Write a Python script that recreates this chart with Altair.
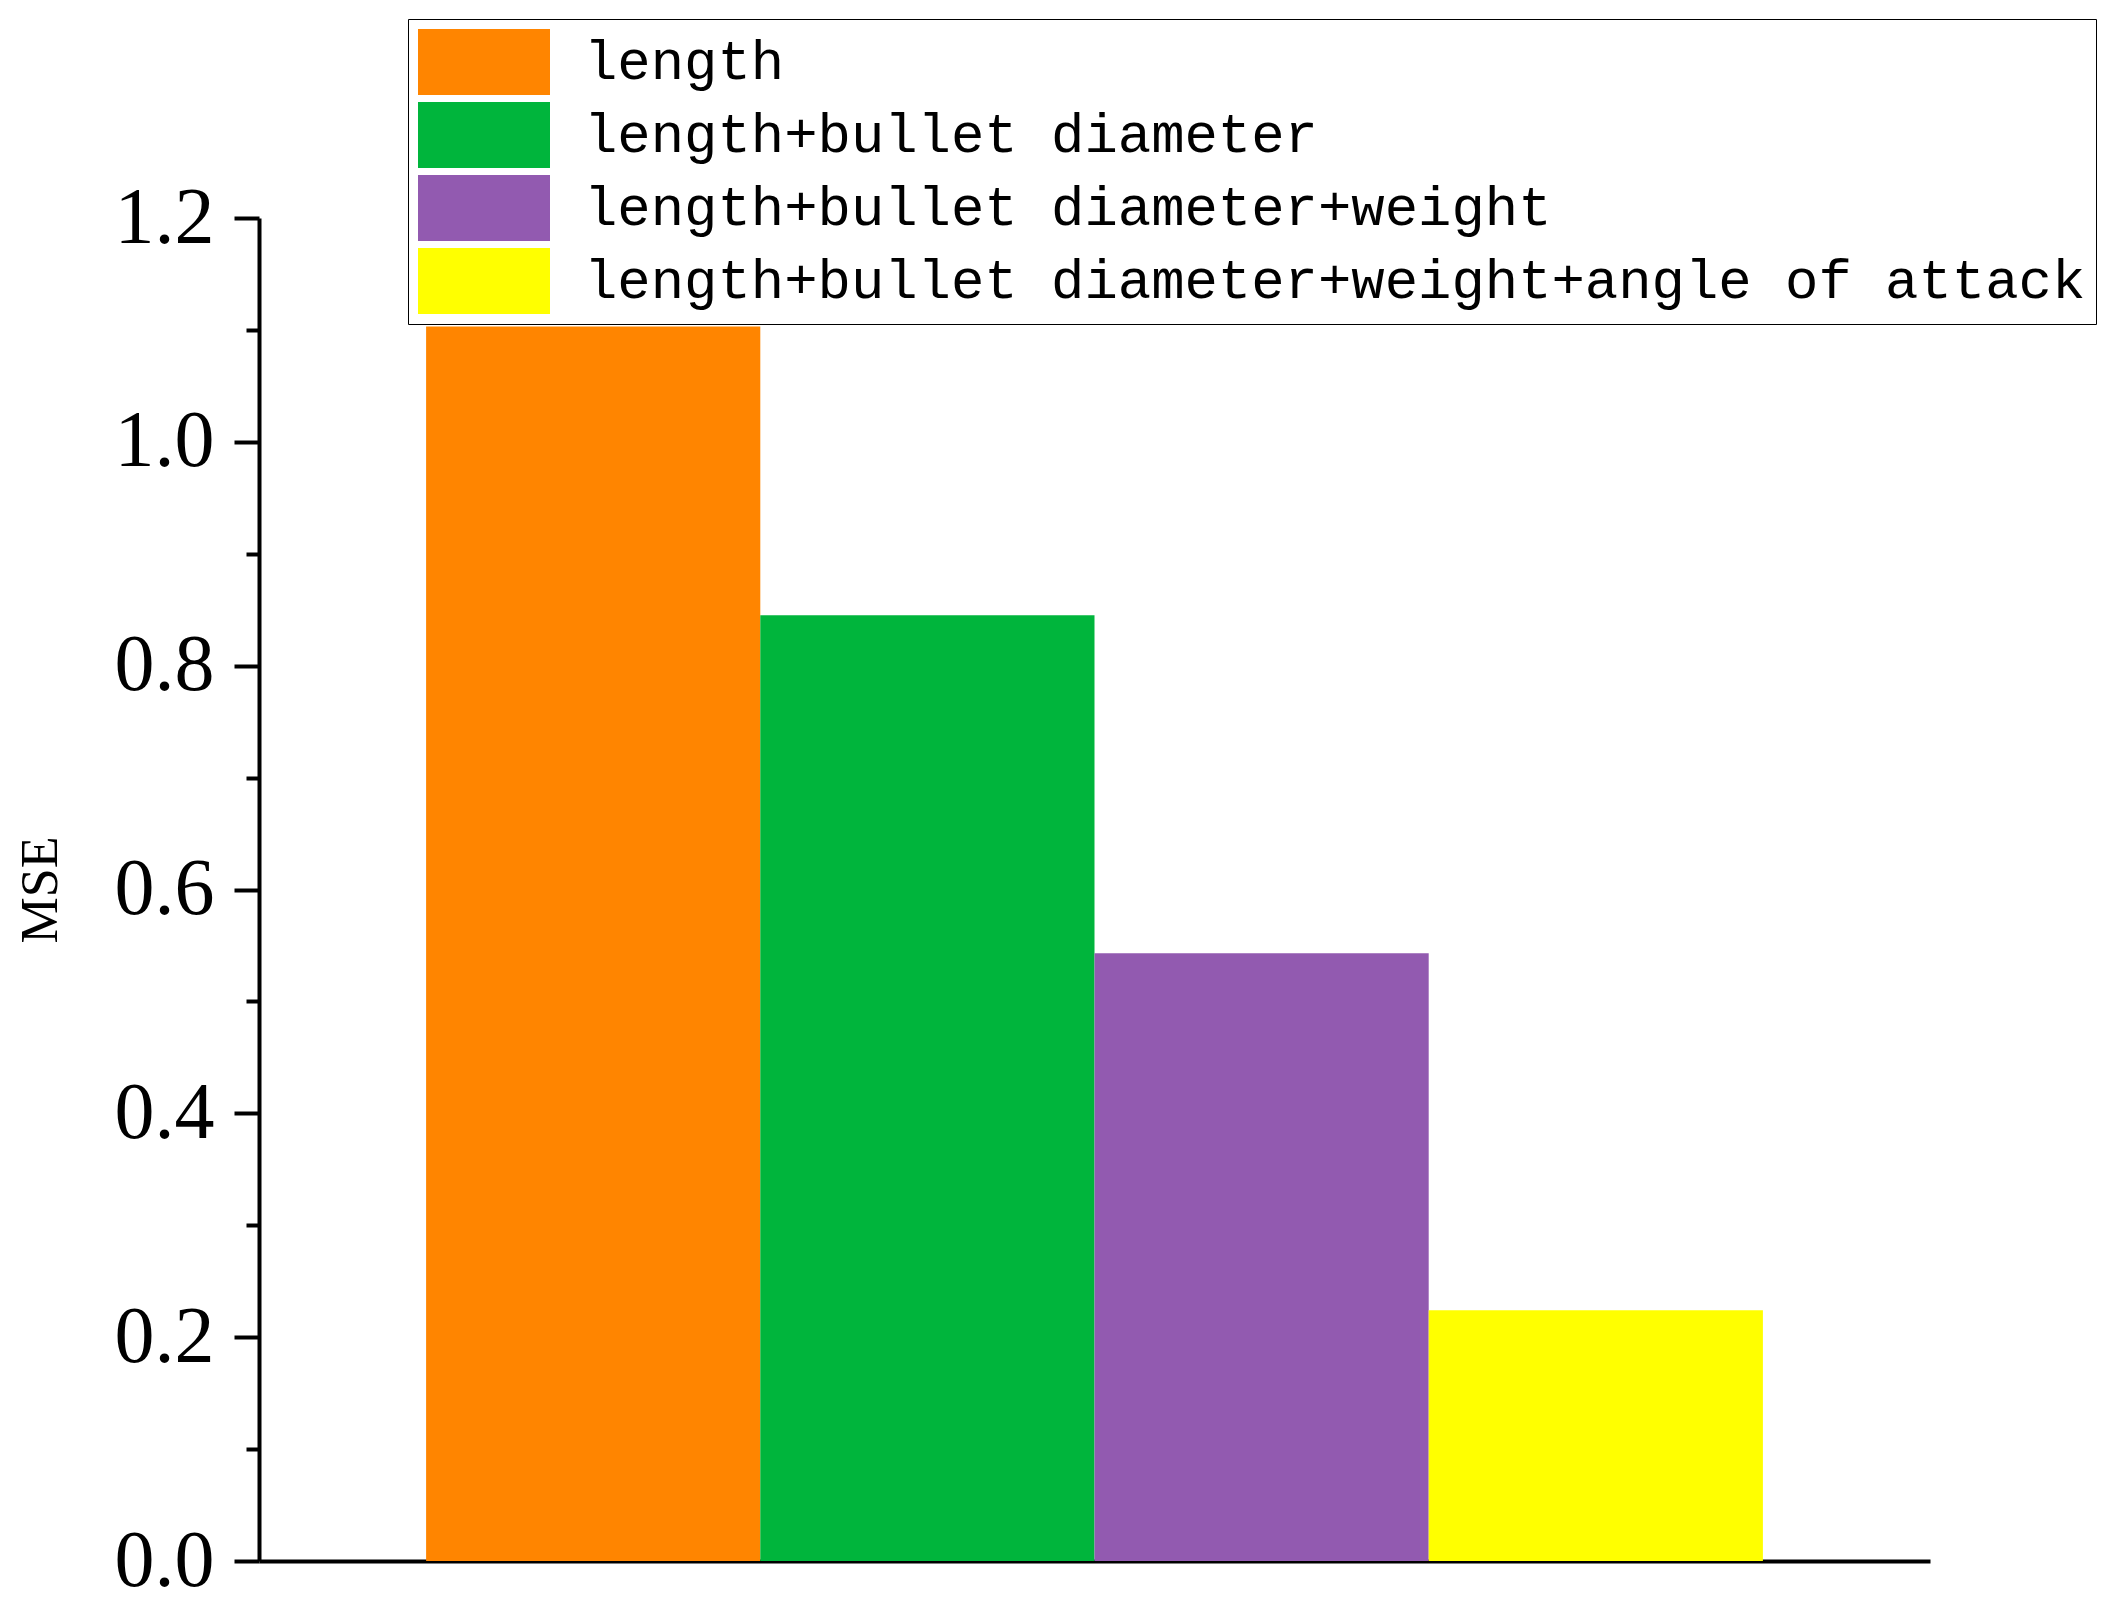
import altair as alt
import pandas as pd

categories = [
    "length",
    "length+bullet diameter",
    "length+bullet diameter+weight",
    "length+bullet diameter+weight+angle of attack",
]
mse_values = [1.103, 0.845, 0.543, 0.224]
bar_colors = ["#FF8500", "#00B53C", "#925AB0", "#FFFF00"]
major_ticks = [0.0, 0.2, 0.4, 0.6, 0.8, 1.0, 1.2]
minor_ticks = [0.1, 0.3, 0.5, 0.7, 0.9, 1.1]

df = pd.DataFrame({"feature": categories, "MSE": mse_values})

x_enc = alt.X(
    "feature:N",
    sort=categories,
    scale=alt.Scale(paddingInner=0, paddingOuter=0.5),
    axis=alt.Axis(labels=False, ticks=False, title=None, domainColor="black",
                  domainWidth=4, grid=False),
)
y_scale = alt.Scale(domain=[0, 1.2], nice=False, zero=True)

bars = alt.Chart(df).mark_bar(opacity=1, strokeWidth=0).encode(
    x=x_enc,
    y=alt.Y(
        "MSE:Q",
        scale=y_scale,
        axis=alt.Axis(
            orient="left",
            values=major_ticks,
            format=".1f",
            tickSize=25,
            tickWidth=4,
            tickColor="black",
            domainColor="black",
            domainWidth=4,
            labelFont="Liberation Serif",
            labelFontSize=80,
            labelColor="black",
            labelPadding=20,
            labelFlush=False,
            labelOverlap=False,
            grid=False,
            title="MSE",
            titleFont="Liberation Serif",
            titleFontSize=52,
            titleFontWeight="normal",
            titleColor="black",
            titlePadding=47,
        ),
    ),
    color=alt.Color(
        "feature:N",
        sort=categories,
        scale=alt.Scale(domain=categories, range=bar_colors),
        legend=alt.Legend(
            orient="none",
            legendX=149,
            legendY=-199,
            title=None,
            symbolType="M-1,-1H3V1H-1Z",
            symbolSize=4356,
            symbolStrokeWidth=0,
            symbolOpacity=1,
            labelFont="Liberation Mono",
            labelFontSize=55.6,
            labelColor="black",
            labelOffset=100,
            labelLimit=3000,
            rowPadding=7,
            padding=10,
            strokeColor="black",
            fillColor="white",
        ),
    ),
)

minor = alt.Chart(df).mark_bar(opacity=0).encode(
    y=alt.Y(
        "MSE:Q",
        scale=y_scale,
        axis=alt.Axis(
            orient="left",
            values=minor_ticks,
            tickSize=13,
            tickWidth=4,
            tickColor="black",
            labels=False,
            domain=False,
            grid=False,
            title=None,
        ),
    ),
)

chart = (
    alt.layer(bars, minor)
    .resolve_axis(y="independent")
    .properties(
        width=1671,
        height=1343,
        padding={"left": 251, "top": 210, "right": 175, "bottom": 45},
        autosize=alt.AutoSizeParams(type="none"),
        background="white",
    )
    .configure_view(stroke=None)
)

chart.save("out.html", embed_options={"renderer": "svg", "actions": False})
